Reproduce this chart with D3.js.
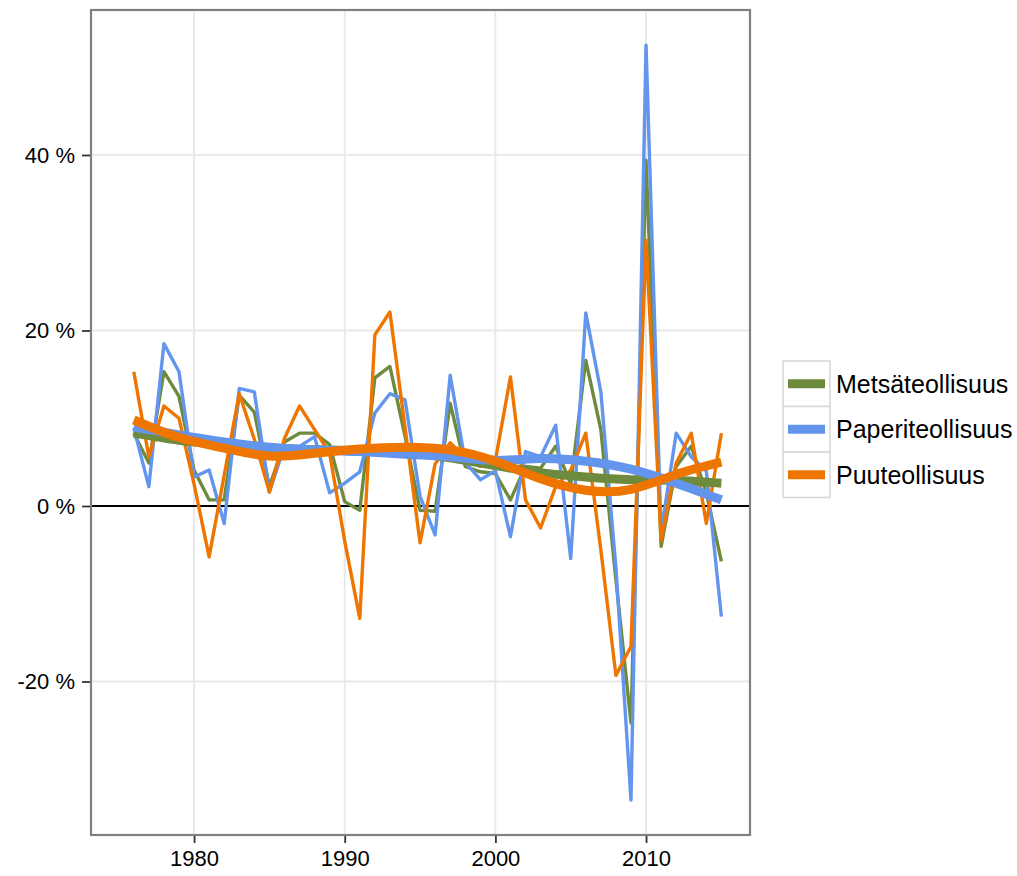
<!DOCTYPE html>
<html>
<head>
<meta charset="utf-8">
<script src="https://cdn.jsdelivr.net/npm/d3@7"></script>
<style>
  html, body { margin: 0; padding: 0; background: #fff; }
  svg text { font-family: "Liberation Sans", Arial, sans-serif; }
</style>
</head>
<body>
<svg id="chart" width="1017" height="876"></svg>
<script>
const years = d3.range(1976, 2016);
const seriesNames = ["Metsäteollisuus", "Paperiteollisuus", "Puuteollisuus"];
const seriesColors = ["#6E8B3D", "#6495ED", "#EE7600"];

const metsa = [8.3, 4.9, 15.3, 12.5, 4.1, 0.7, 0.7, 12.6, 10.7, 2.2,
  7.3, 8.3, 8.3, 7.0, 0.5, -0.5, 14.6, 15.9, 8.0, -0.5,
  -0.6, 11.7, 4.5, 3.9, 3.7, 0.7, 4.5, 4.3, 6.8, 2.5,
  16.6, 8.7, -8.4, -24.7, 39.4, -4.6, 4.5, 6.8, 1.5, -6.3];
const paperi = [8.9, 2.2, 18.5, 15.3, 3.3, 4.1, -2.0, 13.4, 13.0, 1.6,
  6.8, 6.8, 7.9, 1.5, 2.6, 3.9, 10.6, 12.8, 12.1, 1.1,
  -3.3, 14.9, 5.0, 3.0, 4.0, -3.5, 6.2, 5.6, 9.2, -6.0,
  22.0, 13.0, -7.0, -33.5, 52.5, -3.0, 8.3, 5.6, 4.0, -12.6];
const puu = [15.3, 5.6, 11.4, 10.0, 2.5, -5.8, 3.5, 12.8, 7.6, 1.6,
  7.7, 11.4, 8.7, 6.0, -4.0, -12.8, 19.5, 22.1, 9.0, -4.2,
  4.8, 7.2, 5.5, 4.5, 5.2, 14.7, 0.7, -2.5, 2.2, 4.1,
  8.3, -5.0, -19.3, -16.0, 30.3, -3.9, 4.9, 8.3, -2.0, 8.3];

// smoothed trend
const smoothYears = [1976, 1979, 1982, 1985, 1988, 1991, 1994, 1997, 2000, 2003, 2006, 2009, 2012, 2015];
const metsaSmooth = [8.3, 7.5, 7.0, 6.6, 6.4, 6.3, 6.1, 5.5, 4.6, 3.8, 3.3, 3.0, 2.9, 2.6];
const paperiSmooth = [9.0, 8.1, 7.3, 6.7, 6.4, 6.2, 5.9, 5.6, 5.2, 5.4, 5.1, 4.2, 2.6, 0.7];
const puuSmooth = [9.8, 7.8, 6.6, 5.7, 6.0, 6.5, 6.7, 6.4, 5.1, 3.1, 1.8, 1.9, 3.6, 5.0];

const xTicks = [1980, 1990, 2000, 2010];
const yTicks = [-20, 0, 20, 40];

const raw = [metsa, paperi, puu];
const smooth = [metsaSmooth, paperiSmooth, puuSmooth];

const svg = d3.select("#chart");
const panel = {left: 91, right: 750, top: 10, bottom: 835};

const x = d3.scaleLinear().domain([1973.16, 2016.9]).range([panel.left, panel.right]);
const y = d3.scaleLinear().domain([-37.49, 56.52]).range([panel.bottom, panel.top]);

svg.append("rect").attr("width", 1017).attr("height", 876).attr("fill", "#fff");

// grid
const g = svg.append("g");
g.selectAll(".vg").data(xTicks).enter().append("line")
  .attr("x1", d => x(d)).attr("x2", d => x(d))
  .attr("y1", panel.top).attr("y2", panel.bottom)
  .attr("stroke", "#E8E8E8").attr("stroke-width", 1.8);
g.selectAll(".hg").data(yTicks).enter().append("line")
  .attr("x1", panel.left).attr("x2", panel.right)
  .attr("y1", d => y(d)).attr("y2", d => y(d))
  .attr("stroke", "#E8E8E8").attr("stroke-width", 1.8);

// zero line
g.append("line").attr("x1", panel.left).attr("x2", panel.right)
  .attr("y1", y(0)).attr("y2", y(0)).attr("stroke", "#000").attr("stroke-width", 1.8);

svg.append("clipPath").attr("id", "clip").append("rect")
  .attr("x", panel.left).attr("y", panel.top)
  .attr("width", panel.right - panel.left).attr("height", panel.bottom - panel.top);

const plot = svg.append("g").attr("clip-path", "url(#clip)");

const rawLine = d3.line().x((d, i) => x(years[i])).y(d => y(d));
raw.forEach((vals, k) => {
  plot.append("path").datum(vals).attr("d", rawLine)
    .attr("fill", "none").attr("stroke", seriesColors[k])
    .attr("stroke-width", 3.4).attr("stroke-linejoin", "round");
});

const smLine = d3.line().x((d, i) => x(smoothYears[i])).y(d => y(d)).curve(d3.curveNatural);
smooth.forEach((vals, k) => {
  plot.append("path").datum(vals).attr("d", smLine)
    .attr("fill", "none").attr("stroke", seriesColors[k])
    .attr("stroke-width", 9);
});

// panel border
svg.append("rect").attr("x", panel.left).attr("y", panel.top)
  .attr("width", panel.right - panel.left).attr("height", panel.bottom - panel.top)
  .attr("fill", "none").attr("stroke", "#808080").attr("stroke-width", 2.2);

// axes
const xAxis = d3.axisBottom(x).tickValues(xTicks).tickFormat(d3.format("d")).tickSize(7).tickPadding(7);
const xa = svg.append("g").attr("transform", `translate(0,${panel.bottom + 1})`).call(xAxis);
xa.select(".domain").remove();
xa.selectAll("line").attr("stroke", "#333").attr("stroke-width", 1.8);
xa.selectAll("text").attr("font-size", 22).attr("fill", "#000")
  .attr("font-family", "Liberation Sans, Arial, sans-serif");

const yAxis = d3.axisLeft(y).tickValues(yTicks).tickFormat(d => d + " %").tickSize(8).tickPadding(7);
const ya = svg.append("g").attr("transform", `translate(${panel.left - 1},0)`).call(yAxis);
ya.select(".domain").remove();
ya.selectAll("line").attr("stroke", "#333").attr("stroke-width", 1.8);
ya.selectAll("text").attr("font-size", 22).attr("fill", "#000")
  .attr("font-family", "Liberation Sans, Arial, sans-serif");

// legend
const leg = svg.append("g").attr("transform", "translate(783,361)");
const keyH = 45.5, keyW = 47;
seriesNames.forEach((name, k) => {
  const gy = k * keyH;
  leg.append("rect").attr("x", 0).attr("y", gy).attr("width", keyW).attr("height", keyH)
    .attr("fill", "#fff").attr("stroke", "#D9D9D9").attr("stroke-width", 1.6);
  leg.append("line").attr("x1", 5).attr("x2", keyW - 5)
    .attr("y1", gy + keyH / 2).attr("y2", gy + keyH / 2)
    .attr("stroke", seriesColors[k]).attr("stroke-width", 9);
  leg.append("text").attr("x", 53).attr("y", gy + keyH / 2 + 9)
    .attr("font-size", 25).attr("fill", "#000").text(name);
});
</script>
</body>
</html>
